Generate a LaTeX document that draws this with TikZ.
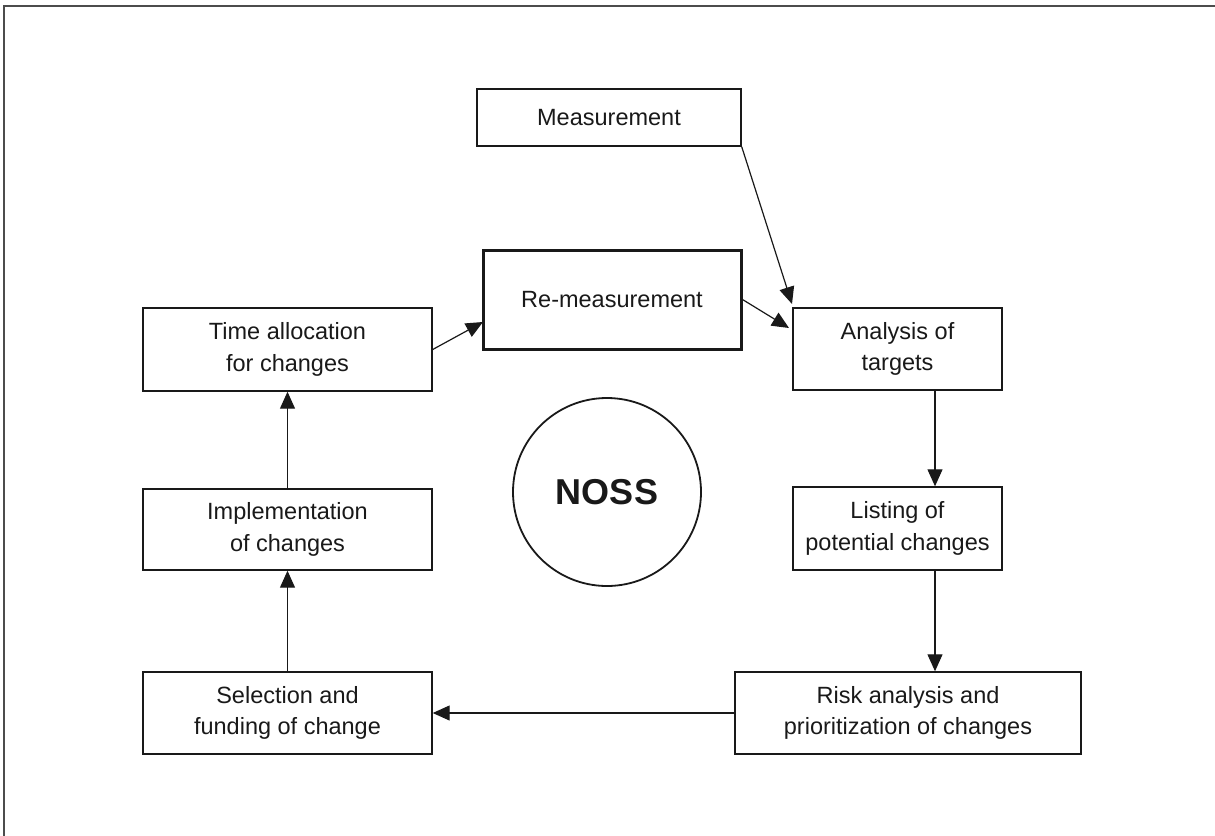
\documentclass[tikz,border=0pt]{standalone}
\usepackage{fontspec}
\setmainfont{Liberation Sans}
\usetikzlibrary{arrows.meta}
\begin{document}
\begin{tikzpicture}[x=1pt,y=-1pt,
  boxnode/.style={draw=black!90, line width=1.4pt, inner sep=0pt, align=center,
    font=\fontsize{23.5}{31.5}\selectfont, text=black!90},
  arr/.style={line width=1.2pt, draw=black!90, -{Triangle[length=17pt,width=15pt]}}]
\useasboundingbox (0,0) rectangle (1215,835);
\draw[line width=2pt, draw=black!70] (4,840) -- (4,6) -- (1220,6);

\node[boxnode, minimum width=264pt, minimum height=57pt] (meas) at (609,117.5) {Measurement};
\node[boxnode, line width=3pt, minimum width=258pt, minimum height=99pt] (remeas) at (612,299.5) {Re-measurement};
\node[boxnode, minimum width=209pt, minimum height=82pt] (analysis) at (897.5,349) {Analysis of\\targets};
\node[boxnode, minimum width=209pt, minimum height=83pt] (listing) at (897.5,528.5) {Listing of\\potential changes};
\node[boxnode, minimum width=346pt, minimum height=82pt] (risk) at (908,713) {Risk analysis and\\prioritization of changes};
\node[boxnode, minimum width=289pt, minimum height=82pt] (select) at (287.5,713) {Selection and\\funding of change};
\node[boxnode, minimum width=289pt, minimum height=81pt] (impl) at (287.5,529.5) {Implementation\\of changes};
\node[boxnode, minimum width=289pt, minimum height=83pt] (time) at (287.5,349.5) {Time allocation\\for changes};
\node[circle, draw=black!90, line width=1.8pt, minimum size=188pt, inner sep=0pt,
  font=\fontsize{36}{40}\selectfont\bfseries, text=black!90] (noss) at (607,492) {NOSS};

\coordinate (cx) at (935,0);
\coordinate (remin) at (483,322);
\coordinate (anin) at (789,328);
\coordinate (anc) at (792,304);

\draw[arr] (meas.south east) -- (anc);
\draw[arr] (remeas.east) -- (anin);
\draw[arr] (time.east) -- (remin);
\draw[arr] (analysis.south -| cx) -- (listing.north -| cx);
\draw[arr] (listing.south -| cx) -- (risk.north -| cx);
\draw[arr] (risk.west) -- (select.east);
\draw[arr] (select.north) -- (impl.south);
\draw[arr] (impl.north) -- (time.south);
\end{tikzpicture}
\end{document}
